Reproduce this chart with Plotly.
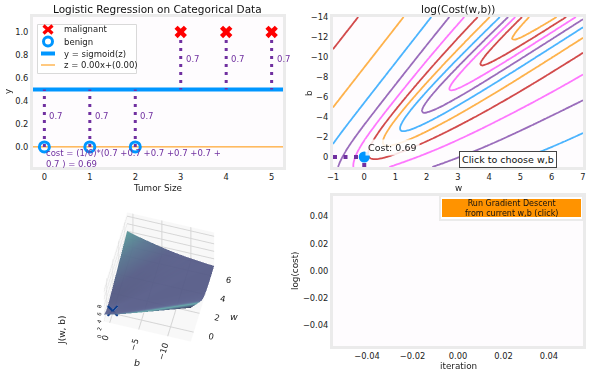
import numpy as np
import plotly.graph_objects as go

# ---------------- data ----------------
x_train = [0, 1, 2, 3, 4, 5]
y_train = [0, 0, 0, 1, 1, 1]
w_init = 0.0
b_init = 0.0
point_loss_labels = ["0.7", "0.7", "0.7", "0.7", "0.7", "0.7"]
cost_label = "cost = (1/6)*(0.7 +0.7 +0.7 +0.7 +0.7 +<br>0.7 ) = 0.69"
contour_cost_label = "Cost: 0.69"
w_range = [-1, 7]
b_range = [1, -14]
contour_levels = [-3.5, -3.0, -2.5, -2.0, -1.5, -1.0, -0.5, 0.0, 0.5, 1.0, 1.5, 2.0]
lr_xticks = [0, 1, 2, 3, 4, 5]
lr_yticks = [0.0, 0.2, 0.4, 0.6, 0.8, 1.0]
cont_xticks = [-1, 0, 1, 2, 3, 4, 5, 6, 7]
cont_yticks = [-14, -12, -10, -8, -6, -4, -2, 0]
cost_ticks = [-0.04, -0.02, 0.0, 0.02, 0.04]
surf_wticks = [0, 2, 4, 6]
surf_bticks = [0, -5, -10]
surf_zticks = [0, 2, 4, 6, 8]
stray_marker_x = [0.058]
stray_marker_y = [0.040]
legend_labels = ["malignant", "benign", "y = sigmoid(z)", f"z = {w_init:.2f}x+({b_init:.2f})"]

# ---------------- colours ----------------
dlblue = "#0096FF"
dlorange = "#FF9300"
dldarkred = "#C00000"
dlmagenta = "#FF40FF"
dlpurple = "#7030A0"
contour_colors = [dlorange, dldarkred, dlmagenta, dlpurple, dlblue,
                  dlorange, dldarkred, dlmagenta, dlpurple, dlblue,
                  dlorange, dldarkred]

FONT = "DejaVu Sans"
FRAME = "#ebebeb"
W, H = 600.0, 374.0

xt = np.array(x_train, float)
yt = np.array(y_train, float)


def sigmoid(z):
    return 1.0 / (1.0 + np.exp(-z))


def cost_logistic(w, b):
    z = w * xt + b
    loss = np.where(yt == 1, np.logaddexp(0, -z), np.logaddexp(0, z))
    return loss.mean()


def px(x):
    return x / W


def py(y):
    return 1 - y / H


w_space = np.linspace(w_range[0], w_range[1], 100)
b_space = np.linspace(b_range[0], b_range[1], 100)
Z = np.array([[cost_logistic(w, b) for w in w_space] for b in b_space])
Z[Z == 0] = 1e-9
logZ = np.log(Z)

fig = go.Figure()
annotations = []
shapes = []


def label(text, x, y, size=8.8, angle=0, color="#222", **kw):
    d = dict(x=px(x), y=py(y), xref="paper", yref="paper", text=text, showarrow=False,
             xanchor="center", yanchor="middle", textangle=angle,
             font=dict(size=size, color=color, family=FONT))
    d.update(kw)
    annotations.append(d)


# ---------------- top-left: logistic regression ----------------
mal = [i for i in range(len(x_train)) if y_train[i] == 1]
ben = [i for i in range(len(x_train)) if y_train[i] == 0]
x_line = np.array([-0.5, 5.5])
sig_line = sigmoid(w_init * x_line + b_init)
z_line = w_init * x_line + b_init

fig.add_trace(go.Scatter(x=x_line, y=sig_line, mode="lines",
                         line=dict(color=dlblue, width=4), xaxis="x", yaxis="y", hoverinfo="skip"))
fig.add_trace(go.Scatter(x=x_line, y=z_line, mode="lines",
                         line=dict(color=dlorange, width=1), xaxis="x", yaxis="y", hoverinfo="skip"))
for i in range(len(x_train)):
    f = float(sigmoid(w_init * x_train[i] + b_init))
    fig.add_trace(go.Scatter(x=[x_train[i], x_train[i]], y=[y_train[i], f], mode="lines",
                             line=dict(color=dlpurple, width=3, dash="3px,5px"),
                             xaxis="x", yaxis="y", hoverinfo="skip"))
    annotations.append(dict(x=x_train[i], y=(y_train[i] + f) / 2, xref="x", yref="y",
                            text=point_loss_labels[i], showarrow=False, xanchor="left",
                            yanchor="middle", xshift=3, yshift=2,
                            font=dict(color=dlpurple, size=8.5, family=FONT)))
fig.add_trace(go.Scatter(x=[x_train[i] for i in mal], y=[y_train[i] for i in mal],
                         mode="markers", hoverinfo="skip", cliponaxis=False,
                         marker=dict(symbol="x", size=11, color="red", line=dict(width=0)),
                         xaxis="x", yaxis="y"))
fig.add_trace(go.Scatter(x=[x_train[i] for i in ben], y=[y_train[i] for i in ben],
                         mode="markers", hoverinfo="skip", cliponaxis=False,
                         marker=dict(symbol="circle-open", size=10, color=dlblue, line=dict(width=3)),
                         xaxis="x", yaxis="y"))
annotations.append(dict(x=x_train[0], y=y_train[0], xref="x", yref="y", text=cost_label,
                        showarrow=False, xanchor="left", yanchor="top", align="left", yshift=1,
                        font=dict(color=dlpurple, size=8.5, family=FONT)))

# compact matplotlib-style legend
shapes.append(dict(type="rect", xref="paper", yref="paper", x0=px(37.5), x1=px(136.5),
                   y0=py(73.5), y1=py(24.5), line=dict(color="#d9d9d9", width=1),
                   fillcolor="rgba(255,255,255,0.85)", layer="above"))
leg_y = [29.5, 41.5, 53.5, 65.0]
sx = 48.0
for dx1, dy1, dx2, dy2 in [(-4.5, -4, 4.5, 4), (-4.5, 4, 4.5, -4)]:
    shapes.append(dict(type="line", xref="paper", yref="paper", x0=px(sx + dx1), y0=py(leg_y[0] + dy1),
                       x1=px(sx + dx2), y1=py(leg_y[0] + dy2), line=dict(color="red", width=3.2),
                       layer="above"))
shapes.append(dict(type="circle", xref="paper", yref="paper", x0=px(sx - 4.5), x1=px(sx + 4.5),
                   y0=py(leg_y[1] + 4.5), y1=py(leg_y[1] - 4.5), line=dict(color=dlblue, width=3),
                   layer="above"))
shapes.append(dict(type="line", xref="paper", yref="paper", x0=px(41), x1=px(55),
                   y0=py(leg_y[2]), y1=py(leg_y[2]), line=dict(color=dlblue, width=4), layer="above"))
shapes.append(dict(type="line", xref="paper", yref="paper", x0=px(41), x1=px(55),
                   y0=py(leg_y[3]), y1=py(leg_y[3]), line=dict(color=dlorange, width=1), layer="above"))
for lab, yy in zip(legend_labels, leg_y):
    label(lab, 62, yy, size=8.5, xanchor="left")

# ---------------- top-right: contour ----------------
for lv, col in zip(contour_levels, contour_colors):
    fig.add_trace(go.Contour(x=w_space, y=b_space, z=logZ, autocontour=False,
                             contours=dict(start=lv, end=lv, size=0.5, coloring="lines",
                                           showlabels=False),
                             colorscale=[[0, col], [1, col]], showscale=False,
                             line=dict(width=1.8), opacity=0.7, hoverinfo="skip",
                             xaxis="x2", yaxis="y2"))
fig.add_trace(go.Scatter(x=[w_range[0], w_init], y=[b_init, b_init], mode="lines",
                         line=dict(color=dlpurple, width=4, dash="4px,6.5px"),
                         xaxis="x2", yaxis="y2", hoverinfo="skip"))
fig.add_trace(go.Scatter(x=[w_init, w_init], y=[b_range[0], b_init], mode="lines",
                         line=dict(color=dlpurple, width=4, dash="4px,6.5px"),
                         xaxis="x2", yaxis="y2", hoverinfo="skip"))
fig.add_trace(go.Scatter(x=[w_init], y=[b_init], mode="markers",
                         marker=dict(color=dlblue, size=11),
                         xaxis="x2", yaxis="y2", cliponaxis=False))
annotations.append(dict(x=w_init, y=b_init, xref="x2", yref="y2", text=contour_cost_label,
                        showarrow=False, xanchor="left", yanchor="bottom", xshift=1, yshift=1,
                        bgcolor="rgba(255,255,255,0.85)", borderpad=2,
                        font=dict(color="#222", size=9.5, family=FONT)))
annotations.append(dict(x=0.7, y=0.05, xref="x2 domain", yref="y2 domain",
                        text="Click to choose w,b", showarrow=False,
                        xanchor="center", yanchor="middle",
                        bgcolor="white", bordercolor="#444", borderwidth=1, borderpad=2,
                        font=dict(color="#111", size=9.5, family=FONT)))

# ---------------- bottom-left: 3D surface ----------------
fig.add_trace(go.Surface(x=w_space, y=b_space, z=Z, showscale=False, opacity=0.95,
                         cmin=0, cmax=9,
                         colorscale=[[0, "#565b87"], [0.15, "#5b6290"], [0.3, "#5e7e9c"],
                                     [0.45, "#62a9a9"], [0.7, "#4d6a88"], [1, "#2e3350"]],
                         lighting=dict(ambient=0.85, diffuse=0.4, specular=0.05),
                         hoverinfo="skip", scene="scene"))
fig.add_trace(go.Scatter3d(x=[w_init], y=[b_init], z=[cost_logistic(w_init, b_init)],
                           mode="markers", marker=dict(symbol="x", size=2.5, color="#0d3c8c"),
                           scene="scene"))
label("<i>w</i>", 234, 316, size=9.5)
label("<i>b</i>", 137, 362, size=9.5)
label("J(w, b)", 62, 331, size=9, angle=-90)

# ---------------- bottom-right: cost ----------------
fig.add_trace(go.Scatter(x=stray_marker_x, y=stray_marker_y, mode="markers",
                         marker=dict(symbol="circle-open", size=11, color=dlblue, line=dict(width=3)),
                         cliponaxis=False, xaxis="x4", yaxis="y4"))

# button
shapes += [
    dict(type="rect", xref="paper", yref="paper", x0=px(440), x1=px(583),
         y0=py(220), y1=py(196), line=dict(color=FRAME, width=2), fillcolor="white",
         layer="above"),
    dict(type="rect", xref="paper", yref="paper", x0=px(442), x1=px(581),
         y0=py(217), y1=py(199), line=dict(width=0), fillcolor=dlorange,
         layer="above"),
]
label("Run Gradient Descent<br>from current w,b (click)", 511.5, 208, size=8, color="#111")

# titles and axis labels
label("Logistic Regression on Categorical Data", 158, 9, size=10.5, color="#111")
label("log(Cost(w,b))", 458, 9, size=10.5, color="#111")
label("Tumor Size", 158, 187.5)
label("y", 8, 92, angle=-90)
label("w", 458, 187.5)
label("b", 309, 93, angle=-90)
label("iteration", 458, 365.5)
label("log(cost)", 295, 271, angle=-90)


def ax2d(domain, rng, tickvals, fmt=None, **kw):
    d = dict(domain=domain, range=rng, tickvals=tickvals, showgrid=False, zeroline=False,
             showline=True, mirror=True, linecolor=FRAME, linewidth=3, automargin=False,
             ticks="", tickfont=dict(size=8.3, color="#222", family=FONT))
    if fmt:
        d["tickformat"] = fmt
    d.update(kw)
    return d


X_L = [px(33), px(283)]
X_R = [px(333), px(583)]
Y_T = [py(167), py(17)]
Y_B = [py(346), py(196)]

axis3d = dict(showbackground=True, backgroundcolor="#f8f8f8", gridcolor="#d6d6d6",
              zeroline=False, showspikes=False, title=dict(text=""))

fig.update_layout(
    width=600, height=374, margin=dict(l=0, r=0, t=0, b=0, autoexpand=False),
    paper_bgcolor="white", plot_bgcolor="#fefcfe",
    font=dict(family=FONT, size=8.5, color="#222"),
    showlegend=False,
    xaxis=ax2d(X_L, [-0.25, 5.25], lr_xticks, anchor="y"),
    yaxis=ax2d(Y_T, [-0.175, 1.13], lr_yticks, fmt=".1f", anchor="x"),
    xaxis2=ax2d(X_R, w_range, cont_xticks, anchor="y2"),
    yaxis2=ax2d(Y_T, b_range, cont_yticks, anchor="x2"),
    xaxis4=ax2d(X_R, [-0.055, 0.055], cost_ticks, fmt=".2f", anchor="y4"),
    yaxis4=ax2d(Y_B, [-0.055, 0.055], cost_ticks, fmt=".2f", anchor="x4"),
    scene=dict(
        domain=dict(x=[0.065, 0.465], y=[0.02, 0.50]),
        bgcolor="rgba(0,0,0,0)",
        aspectmode="manual", aspectratio=dict(x=1, y=1, z=0.75),
        camera=dict(eye=dict(x=-1.256, y=-0.336, z=2.25), up=dict(x=0, y=0, z=1),
                    center=dict(x=0, y=0, z=0), projection=dict(type="orthographic")),
        xaxis=dict(range=[-1, 7], tickvals=surf_wticks, tickfont=dict(size=10, family=FONT, color="#222"), **axis3d),
        yaxis=dict(range=[-14, 1], tickvals=surf_bticks, tickfont=dict(size=10, family=FONT, color="#222"), **axis3d),
        zaxis=dict(range=[0, 9], tickvals=surf_zticks, tickfont=dict(size=8, family=FONT, color="#222"), **axis3d),
    ),
    shapes=shapes,
    annotations=annotations,
)

fig.write_html("out.html", config={"displayModeBar": False},
               post_script="document.body.style.margin='0px';")
